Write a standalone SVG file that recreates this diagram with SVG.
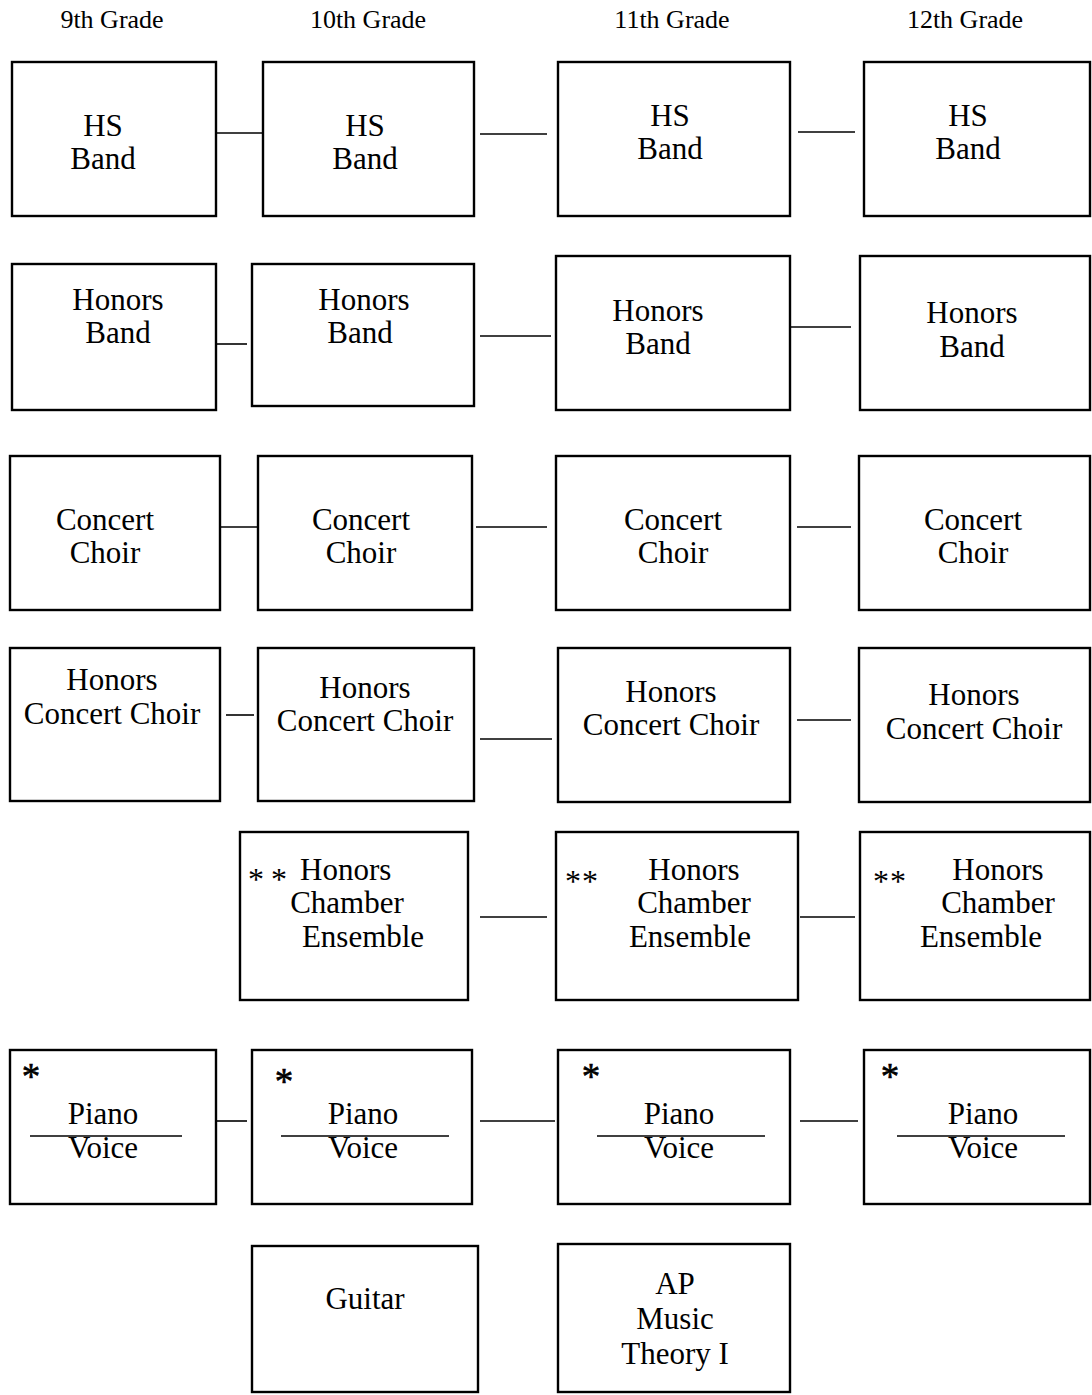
<svg xmlns="http://www.w3.org/2000/svg" width="1092" height="1395" viewBox="0 0 1092 1395">
<style>
text{font-family:"Liberation Serif","Times New Roman",serif;fill:#000;font-size:31px;text-anchor:middle}
.hdr{font-size:26px}
.st{text-anchor:start}
.ast{font-size:32px}
.pa{font-size:37px;stroke:#000;stroke-width:0.6}
rect{fill:#fff;stroke:#000;stroke-width:2.4}
line{stroke:#000;stroke-width:1.6}
</style>
<rect x="0" y="0" width="1092" height="1395" style="stroke:none"/>
<g id="headers">
<text class="hdr" x="112" y="28">9th Grade</text>
<text class="hdr" x="368" y="28">10th Grade</text>
<text class="hdr" x="672" y="28">11th Grade</text>
<text class="hdr" x="965" y="28">12th Grade</text>
</g>
<g id="connectors">
<line x1="216" y1="133" x2="263" y2="133"/>
<line x1="480" y1="134" x2="547" y2="134"/>
<line x1="798" y1="132" x2="855" y2="132"/>
<line x1="216" y1="344" x2="247" y2="344"/>
<line x1="480" y1="336" x2="551" y2="336"/>
<line x1="790" y1="327" x2="851" y2="327"/>
<line x1="215" y1="527" x2="258" y2="527"/>
<line x1="476" y1="527" x2="547" y2="527"/>
<line x1="797" y1="527" x2="851" y2="527"/>
<line x1="226" y1="715" x2="254" y2="715"/>
<line x1="480" y1="739" x2="552" y2="739"/>
<line x1="797" y1="720" x2="851" y2="720"/>
<line x1="480" y1="917" x2="547" y2="917"/>
<line x1="800" y1="917" x2="855" y2="917"/>
<line x1="216" y1="1121" x2="247" y2="1121"/>
<line x1="480" y1="1121" x2="555" y2="1121"/>
<line x1="800" y1="1121" x2="858" y2="1121"/>
</g>
<g id="hsband9"><rect x="12" y="62" width="204" height="154"/><text x="103" y="136">HS</text><text x="103" y="169">Band</text></g>
<g id="hsband10"><rect x="263" y="62" width="211" height="154"/><text x="365" y="136">HS</text><text x="365" y="169">Band</text></g>
<g id="hsband11"><rect x="558" y="62" width="232" height="154"/><text x="670" y="126">HS</text><text x="670" y="159">Band</text></g>
<g id="hsband12"><rect x="864" y="62" width="226" height="154"/><text x="968" y="126">HS</text><text x="968" y="159">Band</text></g>

<g id="honband9"><rect x="12" y="264" width="204" height="146"/><text x="118" y="310">Honors</text><text x="118" y="343">Band</text></g>
<g id="honband10"><rect x="252" y="264" width="222" height="142"/><text x="364" y="310">Honors</text><text x="360" y="343">Band</text></g>
<g id="honband11"><rect x="556" y="256" width="234" height="154"/><text x="658" y="321">Honors</text><text x="658" y="354">Band</text></g>
<g id="honband12"><rect x="860" y="256" width="230" height="154"/><text x="972" y="323">Honors</text><text x="972" y="357">Band</text></g>

<g id="choir9"><rect x="10" y="456" width="210" height="154"/><text x="105" y="530">Concert</text><text x="105" y="563">Choir</text></g>
<g id="choir10"><rect x="258" y="456" width="214" height="154"/><text x="361" y="530">Concert</text><text x="361" y="563">Choir</text></g>
<g id="choir11"><rect x="556" y="456" width="234" height="154"/><text x="673" y="530">Concert</text><text x="673" y="563">Choir</text></g>
<g id="choir12"><rect x="859" y="456" width="231" height="154"/><text x="973" y="530">Concert</text><text x="973" y="563">Choir</text></g>

<g id="honchoir9"><rect x="10" y="648" width="210" height="153"/><text x="112" y="690">Honors</text><text x="112" y="724">Concert Choir</text></g>
<g id="honchoir10"><rect x="258" y="648" width="216" height="153"/><text x="365" y="698">Honors</text><text x="365" y="731">Concert Choir</text></g>
<g id="honchoir11"><rect x="558" y="648" width="232" height="154"/><text x="671" y="702">Honors</text><text x="671" y="735">Concert Choir</text></g>
<g id="honchoir12"><rect x="859" y="648" width="231" height="154"/><text x="974" y="705">Honors</text><text x="974" y="739">Concert Choir</text></g>

<g id="chamber10"><rect x="240" y="832" width="228" height="168"/><text class="ast" x="256" y="890">*</text><text class="ast" x="279" y="890">*</text><text class="st" x="300" y="880">Honors</text><text x="347" y="913">Chamber</text><text x="363" y="947">Ensemble</text></g>
<g id="chamber11"><rect x="556" y="832" width="242" height="168"/><text class="ast" x="573" y="892">*</text><text class="ast" x="590" y="892">*</text><text x="694" y="880">Honors</text><text x="694" y="913">Chamber</text><text x="690" y="947">Ensemble</text></g>
<g id="chamber12"><rect x="860" y="832" width="230" height="168"/><text class="ast" x="881" y="892">*</text><text class="ast" x="898" y="892">*</text><text x="998" y="880">Honors</text><text x="998" y="913">Chamber</text><text x="981" y="947">Ensemble</text></g>

<g id="piano9"><rect x="10" y="1050" width="206" height="154"/><text class="pa" x="31" y="1089">*</text><text x="103" y="1124">Piano</text><line x1="30" y1="1136" x2="182" y2="1136"/><text x="103" y="1158">Voice</text></g>
<g id="piano10"><rect x="252" y="1050" width="220" height="154"/><text class="pa" x="284" y="1094">*</text><text x="363" y="1124">Piano</text><line x1="281" y1="1136" x2="449" y2="1136"/><text x="363" y="1158">Voice</text></g>
<g id="piano11"><rect x="558" y="1050" width="232" height="154"/><text class="pa" x="591" y="1089">*</text><text x="679" y="1124">Piano</text><line x1="597" y1="1136" x2="765" y2="1136"/><text x="679" y="1158">Voice</text></g>
<g id="piano12"><rect x="864" y="1050" width="226" height="154"/><text class="pa" x="890" y="1089">*</text><text x="983" y="1124">Piano</text><line x1="897" y1="1136" x2="1065" y2="1136"/><text x="983" y="1158">Voice</text></g>

<g id="guitar"><rect x="252" y="1246" width="226" height="146"/><text x="365" y="1309">Guitar</text></g>
<g id="aptheory"><rect x="558" y="1244" width="232" height="148"/><text x="675" y="1294">AP</text><text x="675" y="1329">Music</text><text x="675" y="1364">Theory I</text></g>
</svg>
